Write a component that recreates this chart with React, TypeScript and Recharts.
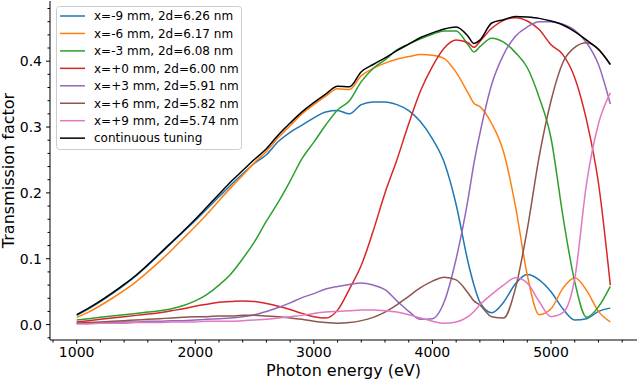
import React from 'react';
import { LineChart, Line, XAxis, YAxis } from 'recharts';

// photon energy grid (eV)
const energies = [
  1000, 1100, 1200, 1300, 1400, 1500, 1600, 1700, 1800, 1900,
  2000, 2100, 2200, 2300, 2400, 2500, 2600, 2700, 2800, 2900,
  3000, 3100, 3200, 3300, 3400, 3500, 3600, 3700, 3800, 3900,
  4000, 4100, 4200, 4300, 4350,
  4400, 4500, 4600, 4700, 4800, 4900, 5000, 5100, 5200, 5300, 5400, 5500,
];

const xm9 = [
  0.014, 0.024, 0.035, 0.047, 0.060, 0.074, 0.090, 0.107, 0.124, 0.141,
  0.158, 0.176, 0.194, 0.212, 0.229, 0.245, 0.258, 0.278, 0.292, 0.303,
  0.314, 0.323, 0.325, 0.320, 0.334, 0.338, 0.338, 0.334, 0.325, 0.308,
  0.282, 0.246, 0.182, 0.095, 0.060,
  0.034, 0.018, 0.034, 0.062, 0.076, 0.068, 0.050, 0.024, 0.007, 0.009, 0.020, 0.025,
];
const xm6 = [
  0.011, 0.019, 0.029, 0.040, 0.052, 0.065, 0.080, 0.096, 0.113, 0.131,
  0.149, 0.168, 0.188, 0.208, 0.227, 0.246, 0.263, 0.284, 0.302, 0.320,
  0.334, 0.347, 0.358, 0.357, 0.378, 0.389, 0.397, 0.403, 0.407, 0.410,
  0.409, 0.404, 0.383, 0.352, 0.336,
  0.331, 0.305, 0.262, 0.180, 0.075, 0.015, 0.024, 0.055, 0.071, 0.052, 0.020, 0.004,
];
const xm3 = [
  0.007, 0.009, 0.011, 0.013, 0.015, 0.017, 0.019, 0.021, 0.024, 0.029,
  0.036, 0.046, 0.060, 0.077, 0.100, 0.126, 0.157, 0.186, 0.218, 0.252,
  0.277, 0.303, 0.326, 0.340, 0.369, 0.389, 0.402, 0.417, 0.426, 0.434,
  0.441, 0.446, 0.446, 0.425, 0.414,
  0.422, 0.435, 0.429, 0.413, 0.390, 0.345, 0.283, 0.165, 0.065, 0.011, 0.027, 0.058,
];
const xp0 = [
  0.004, 0.006, 0.008, 0.010, 0.012, 0.014, 0.016, 0.018, 0.021, 0.024,
  0.028, 0.031, 0.034, 0.035, 0.036, 0.035, 0.032, 0.028, 0.023, 0.017,
  0.012, 0.010, 0.022, 0.054, 0.090, 0.142, 0.200, 0.250, 0.305, 0.355,
  0.392, 0.420, 0.432, 0.428, 0.421,
  0.430, 0.450, 0.462, 0.466, 0.461, 0.448, 0.425, 0.410, 0.375, 0.310, 0.215, 0.060,
];
const xp3 = [
  0.002, 0.002, 0.003, 0.003, 0.004, 0.004, 0.005, 0.005, 0.006, 0.006,
  0.007, 0.008, 0.009, 0.010, 0.012, 0.015, 0.020, 0.026, 0.033, 0.041,
  0.047, 0.054, 0.058, 0.061, 0.063, 0.060, 0.053, 0.036, 0.020, 0.008,
  0.009, 0.035, 0.100, 0.190, 0.245,
  0.290, 0.365, 0.410, 0.438, 0.452, 0.460, 0.460, 0.456, 0.447, 0.428, 0.395, 0.335,
];
const xp6 = [
  0.002, 0.003, 0.004, 0.005, 0.006, 0.007, 0.008, 0.009, 0.010, 0.011,
  0.012, 0.012, 0.013, 0.013, 0.014, 0.014, 0.013, 0.012, 0.010, 0.008,
  0.005, 0.003, 0.002, 0.003, 0.006, 0.011, 0.019, 0.030, 0.043, 0.056,
  0.066, 0.072, 0.068, 0.048, 0.036,
  0.030, 0.012, 0.010, 0.055, 0.145, 0.255, 0.340, 0.398, 0.421, 0.428, 0.418, 0.395,
];
const xp9 = [
  0.001, 0.001, 0.002, 0.002, 0.002, 0.003, 0.003, 0.003, 0.004, 0.004,
  0.004, 0.005, 0.005, 0.005, 0.006, 0.007, 0.008, 0.010, 0.012, 0.014,
  0.017, 0.019, 0.020, 0.021, 0.022, 0.022, 0.021, 0.019, 0.015, 0.010,
  0.005, 0.002, 0.004, 0.012, 0.020,
  0.030, 0.046, 0.060, 0.071, 0.063, 0.035, 0.012, 0.018, 0.070, 0.215, 0.305, 0.352,
];
const continuous = [
  0.015, 0.025, 0.036, 0.048, 0.061, 0.075, 0.091, 0.108, 0.125, 0.142,
  0.160, 0.179, 0.198, 0.217, 0.234, 0.251, 0.267, 0.288, 0.306, 0.323,
  0.337, 0.350, 0.362, 0.361, 0.384, 0.395, 0.405, 0.416, 0.426, 0.436,
  0.443, 0.449, 0.452, 0.438, 0.427,
  0.432, 0.458, 0.463, 0.468, 0.467, 0.465, 0.461, 0.455, 0.445, 0.432, 0.418, 0.395,
];

const xMajorTicks = [1000, 2000, 3000, 4000, 5000];
const xMinorTicks = [800, 1200, 1400, 1600, 1800, 2200, 2400, 2600, 2800, 3200, 3400, 3600, 3800, 4200, 4400, 4600, 4800, 5200, 5400, 5600];
const yMajorTicks = [0, 0.1, 0.2, 0.3, 0.4];
const yMinorTicks = [-0.02, 0.02, 0.04, 0.06, 0.08, 0.12, 0.14, 0.16, 0.18, 0.22, 0.24, 0.26, 0.28, 0.32, 0.34, 0.36, 0.38, 0.42, 0.44, 0.46, 0.48];

const series = [
  { key: 'xm9', name: 'x=-9 mm, 2d=6.26 nm', color: '#1f77b4', values: xm9 },
  { key: 'xm6', name: 'x=-6 mm, 2d=6.17 nm', color: '#ff7f0e', values: xm6 },
  { key: 'xm3', name: 'x=-3 mm, 2d=6.08 nm', color: '#2ca02c', values: xm3 },
  { key: 'xp0', name: 'x=+0 mm, 2d=6.00 nm', color: '#d62728', values: xp0 },
  { key: 'xp3', name: 'x=+3 mm, 2d=5.91 nm', color: '#9467bd', values: xp3 },
  { key: 'xp6', name: 'x=+6 mm, 2d=5.82 nm', color: '#8c564b', values: xp6 },
  { key: 'xp9', name: 'x=+9 mm, 2d=5.74 nm', color: '#e377c2', values: xp9 },
  { key: 'cont', name: 'continuous tuning', color: '#000000', values: continuous },
];

const data = energies.map((e, i) => {
  const row: Record<string, number> = { e };
  series.forEach((s) => { row[s.key] = s.values[i]; });
  return row;
});

const FONT = '"DejaVu Sans", sans-serif';

const XTick = (props: any) => {
  const { x, y, payload } = props;
  const major = xMajorTicks.includes(payload.value);
  return (
    <g>
      <line x1={x} x2={x} y1={y} y2={y + (major ? 4 : 2.5)} stroke="#000" strokeWidth={1} />
      {major && (
        <text x={x} y={y + 6} dy="0.76em" textAnchor="middle" fontSize={14} fill="#000" fontFamily={FONT}>
          {payload.value}
        </text>
      )}
    </g>
  );
};

const YTick = (props: any) => {
  const { x, y, payload } = props;
  const major = yMajorTicks.some((t) => Math.abs(t - payload.value) < 1e-9);
  return (
    <g>
      <line x1={x} x2={x - (major ? 4 : 2.5)} y1={y} y2={y} stroke="#000" strokeWidth={1} />
      {major && (
        <text x={x - 8} y={y} dy="0.36em" textAnchor="end" fontSize={14} fill="#000" fontFamily={FONT}>
          {payload.value.toFixed(1)}
        </text>
      )}
    </g>
  );
};

const renderYLabel = (props: any) => {
  const vb = props.viewBox || { x: 0, y: 0, height: 340 };
  const cx = vb.x + 14;
  const cy = vb.y + vb.height / 2;
  return (
    <text x={cx} y={cy} transform={`rotate(-90 ${cx} ${cy})`} textAnchor="middle" fontSize={16} fill="#000" fontFamily={FONT}>
      Transmission factor
    </text>
  );
};

const renderXLabel = (props: any) => {
  const vb = props.viewBox || { x: 50, y: 340, width: 587, height: 41 };
  return (
    <text x={vb.x + vb.width / 2} y={vb.y + 36} textAnchor="middle" fontSize={16} fill="#000" fontFamily={FONT}>
      Photon energy (eV)
    </text>
  );
};

// legend drawn as an svg overlay, matplotlib style
const ROW = 17.45;
const Legend8 = () => (
  <svg width={190} height={150} style={{ position: 'absolute', left: 55, top: 5 }}>
    <rect x={1.5} y={1.5} width={185} height={143} rx={3} fill="rgba(255,255,255,0.8)" stroke="#cccccc" strokeWidth={1} />
    {series.map((s, i) => {
      const cy = 11 + i * ROW;
      return (
        <g key={s.key}>
          <line x1={5} x2={30} y1={cy} y2={cy} stroke={s.color} strokeWidth={1.5} />
          <text x={39} y={cy} dy="0.36em" fontSize={12} fill="#000" fontFamily={FONT}>{s.name}</text>
        </g>
      );
    })}
  </svg>
);

export default function App() {
  const allX = [...xMajorTicks, ...xMinorTicks].sort((a, b) => a - b);
  const allY = [...yMajorTicks, ...yMinorTicks].sort((a, b) => a - b);
  return (
    <div style={{ position: 'absolute', left: 0, top: 0, width: 640, height: 381, background: '#fff' }}>
      <LineChart width={640} height={381} data={data} margin={{ top: 1, right: 3, bottom: 0, left: 0 }} style={{ fontFamily: FONT }}>
        <XAxis
          dataKey="e" type="number" domain={[775, 5725]} ticks={allX} interval={0}
          tick={<XTick />} tickLine={false} tickSize={0} tickMargin={0} height={41}
          axisLine={{ stroke: '#000', strokeWidth: 1 }} allowDataOverflow label={renderXLabel}
        />
        <XAxis
          xAxisId="top" orientation="top" dataKey="e" type="number" domain={[775, 5725]}
          tick={false} tickLine={false} height={0} axisLine={{ stroke: '#000', strokeWidth: 1 }}
        />
        <YAxis
          type="number" domain={[-0.0234, 0.4914]} ticks={allY} interval={0}
          tick={<YTick />} tickLine={false} tickSize={0} tickMargin={0} width={50}
          axisLine={{ stroke: '#000', strokeWidth: 1 }} allowDataOverflow label={renderYLabel}
        />
        <YAxis
          yAxisId="right" orientation="right" type="number" domain={[-0.0234, 0.4914]}
          tick={false} tickLine={false} width={0} axisLine={{ stroke: '#000', strokeWidth: 1 }}
        />
        {series.map((s) => (
          <Line
            key={s.key} dataKey={s.key} name={s.name} type="monotone" stroke={s.color}
            strokeWidth={1.5} dot={false} activeDot={false} isAnimationActive={false}
          />
        ))}
      </LineChart>
      <Legend8 />
    </div>
  );
}
